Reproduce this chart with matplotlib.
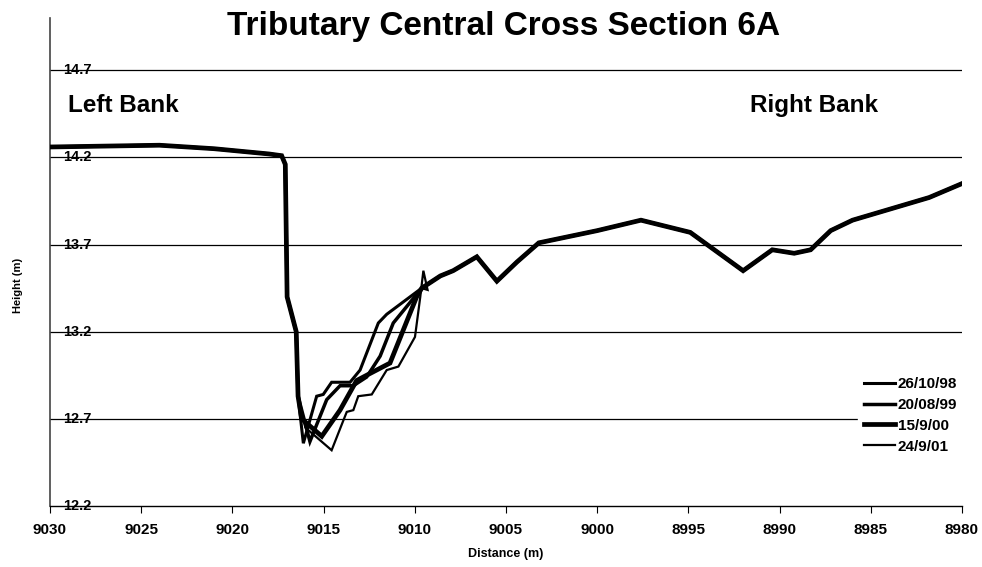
import matplotlib
matplotlib.use("Agg")
import matplotlib.pyplot as plt
from matplotlib.ticker import FixedLocator

plt.rcParams['font.family'] = ['Liberation Sans', 'DejaVu Sans']

# ---- data ----
labels = ["26/10/98", "20/08/99", "15/9/00", "24/9/01"]

common_start_x = [9030, 9027, 9024, 9021, 9018, 9017.3, 9017.1, 9017.0, 9016.5, 9016.4]
common_start_y = [14.26, 14.265, 14.27, 14.25, 14.22, 14.21, 14.16, 13.40, 13.20, 12.83]

common_end_x = [9009.62, 9008.6, 9007.9, 9006.6, 9005.5, 9004.4, 9003.2, 9000.0, 8997.6,
                8994.9, 8992.0, 8990.4, 8989.2, 8988.3, 8987.2, 8986.0, 8981.8, 8980.0]
common_end_y = [13.45, 13.52, 13.55, 13.63, 13.49, 13.60, 13.71, 13.78, 13.84,
                13.77, 13.55, 13.67, 13.65, 13.67, 13.78, 13.84, 13.97, 14.05]

mid_x_98 = [9016.11, 9015.38, 9015.02, 9014.56, 9013.55, 9013.0, 9012.0, 9011.54]
mid_y_98 = [12.56, 12.83, 12.84, 12.91, 12.91, 12.98, 13.25, 13.30]

mid_x_99 = [9015.75, 9014.83, 9014.1, 9013.37, 9012.64, 9011.9, 9011.18]
mid_y_99 = [12.57, 12.81, 12.89, 12.89, 12.94, 13.06, 13.25]

mid_x_00 = [9016.2, 9015.1, 9014.1, 9013.19, 9012.46, 9011.36, 9010.63, 9009.9]
mid_y_00 = [12.70, 12.60, 12.75, 12.92, 12.96, 13.02, 13.21, 13.40]

mid_x_01 = [9016.0, 9014.56, 9013.92, 9013.73, 9013.37, 9013.1, 9012.36, 9011.54,
            9010.9, 9009.99, 9009.7, 9009.53, 9009.3]
mid_y_01 = [12.65, 12.52, 12.69, 12.74, 12.75, 12.83, 12.84, 12.98,
            13.00, 13.17, 13.40, 13.55, 13.44]

y_ticks = [12.2, 12.7, 13.2, 13.7, 14.2, 14.7]
x_ticks = [9030, 9025, 9020, 9015, 9010, 9005, 9000, 8995, 8990, 8985, 8980]

series_mid = [(mid_x_98, mid_y_98), (mid_x_99, mid_y_99),
              (mid_x_00, mid_y_00), (mid_x_01, mid_y_01)]
widths = [2.2, 2.5, 3.4, 1.6]

# ---- figure ----
fig = plt.figure(figsize=(9.82, 5.67), dpi=100)
L, R = 50 / 982, 962 / 982
B, T = (567 - 506) / 567, (567 - 18) / 567
ax = fig.add_axes([L, B, R - L, T - B])
ax.set_xlim(9030, 8980)
ax.set_ylim(12.2, 15.0)

for yv in y_ticks[1:]:
    ax.axhline(yv, color='black', lw=0.9, zorder=1)

for (mx, my), lab, lw in zip(series_mid, labels, widths):
    xs = common_start_x + mx + common_end_x
    ys = common_start_y + my + common_end_y
    ax.plot(xs, ys, color='black', lw=lw, label=lab, zorder=3,
            solid_joinstyle='miter')

for s in ['top', 'right']:
    ax.spines[s].set_visible(False)
ax.spines['left'].set_color('#444444')
ax.spines['left'].set_linewidth(1.2)
ax.spines['bottom'].set_linewidth(1.0)

ax.xaxis.set_major_locator(FixedLocator(x_ticks))
ax.set_xticklabels([str(v) for v in x_ticks], fontsize=11, fontweight='bold')
ax.tick_params(axis='x', direction='out', length=5, width=0.8, pad=7)

ax.set_yticks([])
for yv in y_ticks:
    ax.text(9029.3, yv, f"{yv:.1f}", fontsize=10.5, fontweight='bold',
            ha='left', va='center', zorder=2)

ax.set_xlabel("Distance (m)", fontsize=9, fontweight='bold', labelpad=8)
fig.text(18 / 982, 1 - 285 / 567, "Height (m)", rotation=90, fontsize=8,
         fontweight='bold', ha='center', va='center')

fig.text(504 / 982, 1 - 27 / 567, "Tributary Central Cross Section 6A",
         fontsize=24, fontweight='bold', ha='center', va='center')

ax.text(9029.0, 14.50, "Left Bank", fontsize=17.5, fontweight='bold', ha='left', va='center')
ax.text(8984.6, 14.50, "Right Bank", fontsize=17.5, fontweight='bold', ha='right', va='center')

leg = ax.legend(loc='lower right', bbox_to_anchor=(1.01, 0.079), frameon=True,
                facecolor='white', edgecolor='white', framealpha=1.0,
                fontsize=11, handlelength=2.0, handletextpad=0.2,
                labelspacing=0.45, borderpad=0.4)
for t in leg.get_texts():
    t.set_fontweight('bold')

fig.savefig("out.png", dpi=100)
